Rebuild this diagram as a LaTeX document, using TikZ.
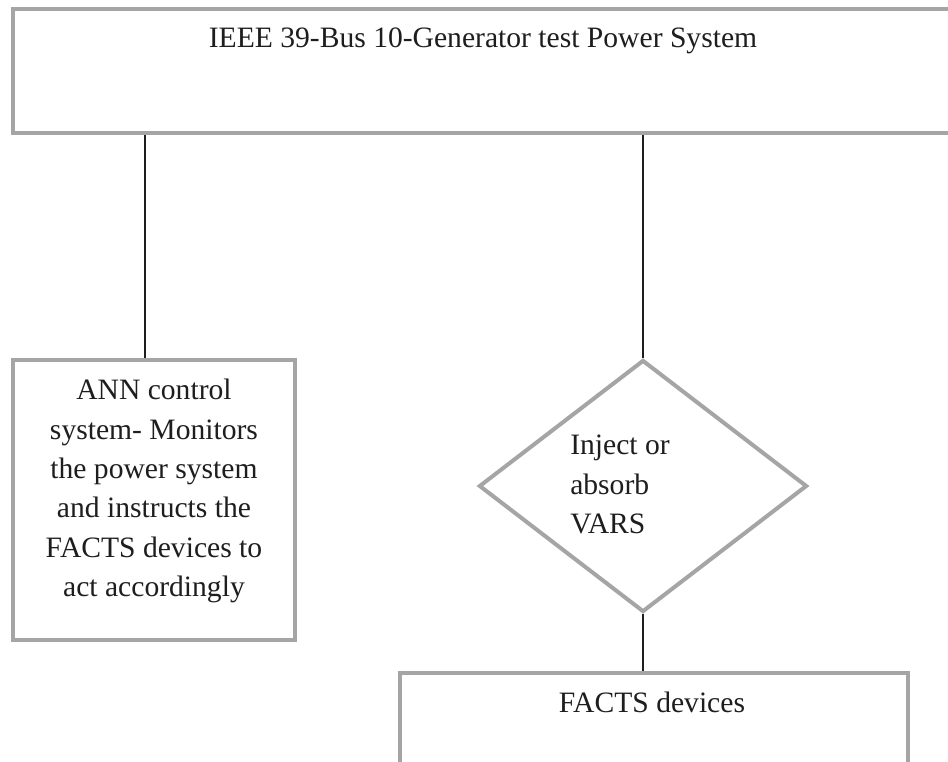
\documentclass[tikz,border=0pt]{standalone}
\usepackage{fontspec}
\setmainfont{Liberation Serif}
\usetikzlibrary{shapes.geometric}
\definecolor{boxgray}{RGB}{165,165,165}
\definecolor{inkblack}{RGB}{30,30,30}
\begin{document}
\begin{tikzpicture}[x=0.75pt,y=-0.75pt,
  blockbox/.style={draw=boxgray,line width=3pt,fill=none,inner sep=0pt,rectangle},
  decisionbox/.style={draw=boxgray,line width=3pt,diamond,inner sep=0pt,
    minimum width=246pt,minimum height=189pt},
  txt/.style={inner sep=0pt,text=inkblack,font=\fontsize{22.2pt}{29.5pt}\selectfont},
  conn/.style={draw=inkblack,line width=1pt}]
\useasboundingbox (0,0) rectangle (948,761);
\clip (0,0) rectangle (948,761);
\fill[white] (0,0) rectangle (948,761);

% blocks
\node[blockbox,minimum width=705pt,minimum height=93pt] (sys) at (483,71) {};
\node[blockbox,minimum width=211.5pt,minimum height=210pt] (ann) at (154,500) {};
\node[decisionbox] (vars) at (643,486) {};
\node[blockbox,minimum width=381pt,minimum height=95pt] (facts) at (654,736.5) {};

% labels
\node[txt,anchor=base] (systxt) at (483,47) {IEEE 39-Bus 10-Generator test Power System};
\node[txt,anchor=north,align=center] (anntxt) at (154,379)
  {ANN control\\system- Monitors\\the power system\\and instructs the\\FACTS devices to\\act accordingly};
\node[txt,anchor=north west,align=left] (varstxt) at (570,435) {Inject or\\absorb\\VARS};
\node[txt,anchor=base] (factstxt) at (652,712) {FACTS devices};

% connectors
\draw[conn] ([xshift=-6.75pt]ann.north) -- ([xshift=-6.75pt]ann.north |- sys.south);
\draw[conn] (vars.north) -- (vars.north |- sys.south);
\draw[conn] (vars.south) -- (vars.south |- facts.north);
\end{tikzpicture}
\end{document}
